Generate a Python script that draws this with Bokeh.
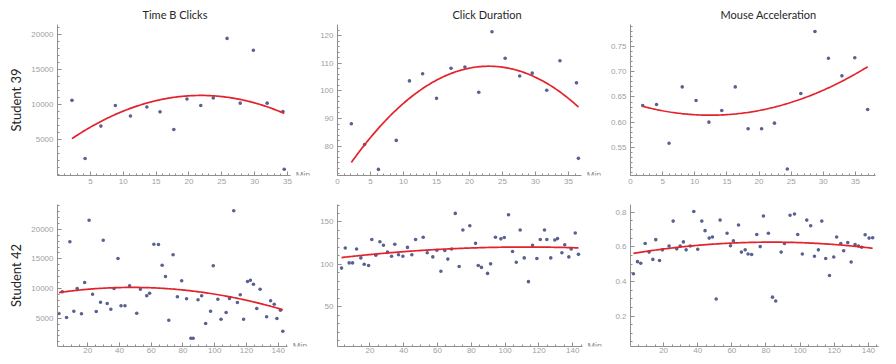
import numpy as np
from bokeh.plotting import figure
from bokeh.layouts import row, column
from bokeh.models import Range1d, FixedTicker, Label, Title, PrintfTickFormatter
from bokeh.embed import file_html
from bokeh.resources import INLINE

# ---------------- data ----------------
col_titles = ["Time B Clicks", "Click Duration", "Mouse Acceleration"]
row_labels = ["Student 39", "Student 42"]
x_axis_label = "Min"

# Student 39
s39_clicks_min = [2.2, 4.2, 6.6, 8.8, 11.1, 13.6, 15.6, 17.7, 19.7, 21.8, 23.7, 25.8, 27.8, 29.8, 31.9, 34.3, 34.5]
s39_clicks = [10600, 2250, 6900, 9850, 8350, 9650, 8950, 6400, 10800, 9850, 10950, 19500, 10200, 17800, 10200, 9000, 700]

s39_dur_min = [2.1, 4.1, 6.2, 8.9, 10.9, 12.9, 15.0, 17.2, 19.3, 21.4, 23.4, 25.4, 27.6, 29.5, 31.7, 33.7, 36.2, 36.5]
s39_dur = [88.1, 80.6, 71.6, 82.1, 103.6, 106.2, 97.3, 108.2, 108.6, 99.5, 121.4, 111.8, 105.4, 106.4, 100.2, 110.9, 102.9, 75.6]

s39_acc_min = [1.9, 4.05, 6.0, 8.05, 10.2, 12.2, 14.2, 16.3, 18.3, 20.4, 22.4, 24.4, 26.5, 28.7, 30.8, 32.9, 34.9, 36.9]
s39_acc = [0.633, 0.635, 0.558, 0.670, 0.643, 0.600, 0.623, 0.670, 0.587, 0.587, 0.598, 0.507, 0.657, 0.780, 0.727, 0.692, 0.728, 0.625]

# Student 42
s42_clicks_min = [1.9, 4.0, 6.7, 8.8, 11.3, 13.4, 16.1, 18.1, 20.9, 23.1, 25.4, 28.1, 29.8, 32.3, 34.6, 36.6, 39.1, 41.0,
                  43.5, 46.4, 50.9, 53.2, 57.2, 59.0, 61.7, 64.6, 66.9, 69.0, 71.1, 73.8, 76.5, 79.2, 82.3, 85.0, 86.4,
                  89.5, 91.8, 94.3, 97.4, 99.1, 102.0, 104.0, 107.2, 109.3, 112.0, 114.3, 116.1, 118.2, 120.7, 122.5,
                  124.4, 126.5, 128.6, 132.7, 135.2, 137.5, 139.2, 141.4, 142.9]
s42_clicks = [5790, 9450, 5120, 17880, 6180, 10010, 5740, 11020, 21530, 9050, 6130, 7700, 18150, 7480, 6520, 10010, 15070, 7090,
              7090, 10460, 5840, 9890, 8780, 9220, 17480, 17430, 13940, 12030, 4660, 15690, 8610, 11310, 8270, 1630, 1630,
              8100, 8780, 4110, 6180, 13840, 8200, 4830, 5960, 8320, 23110, 7650, 8950, 4830, 11190, 11410,
              10730, 6640, 9890, 5240, 7930, 7360, 4950, 6350, 2810]

s42_dur_min = [3.2, 5.4, 7.7, 9.7, 12.1, 14.6, 16.6, 19.2, 21.1, 23.5, 25.9, 28.0, 30.4, 32.8, 34.7, 36.9, 39.5, 42.2, 44.8,
               47.0, 51.5, 53.9, 57.2, 59.6, 62.0, 64.3, 66.1, 68.3, 70.5, 72.8, 75.0, 79.1, 82.5, 84.1, 86.0, 89.6, 91.4,
               94.3, 97.5, 99.5, 102.0, 104.4, 106.6, 108.9, 111.3, 113.8, 116.2, 118.8, 120.8, 123.3, 124.7, 127.0,
               129.4, 131.0, 133.6, 135.3, 137.7, 139.1, 141.5, 143.4]
s42_dur = [95.6, 119.2, 101.7, 101.7, 118.1, 107.6, 100.1, 98.7, 129.3, 110.7, 126.7, 122.6, 114.4, 109.6, 123.7, 111.3, 109.6,
           120.0, 111.3, 129.3, 132.0, 113.6, 108.8, 116.6, 91.9, 116.3, 106.2, 118.1, 160.1, 97.5, 140.6, 145.5, 124.8,
           98.7, 96.4, 89.3, 100.6, 132.0, 130.1, 131.6, 158.5, 115.2, 102.4, 140.6, 107.6, 79.6, 122.6, 106.9, 129.3,
           140.6, 129.3, 107.6, 128.7, 130.4, 113.6, 123.0, 108.8, 118.1, 136.9, 111.8]

s42_acc_min = [2.3, 4.7, 6.6, 9.2, 11.5, 13.7, 15.4, 17.6, 19.3, 23.2, 25.6, 27.7, 29.7, 31.6, 33.2, 35.6, 37.7, 40.0, 42.4,
               44.3, 46.7, 48.6, 50.8, 53.1, 57.2, 59.2, 60.9, 63.9, 65.6, 67.8, 69.5, 71.6, 74.6, 76.6, 78.5, 81.4, 83.8,
               85.7, 88.9, 90.8, 94.1, 96.7, 98.6, 101.3, 103.9, 106.2, 108.4, 110.7, 112.7, 115.0, 117.2, 119.7, 121.4,
               123.8, 125.5, 127.9, 129.9, 132.2, 134.2, 136.1, 138.1, 140.4, 142.5]
s42_acc = [0.444, 0.514, 0.505, 0.619, 0.569, 0.527, 0.641, 0.521, 0.582, 0.604, 0.748, 0.588, 0.604, 0.628, 0.582, 0.604,
           0.804, 0.586, 0.748, 0.693, 0.650, 0.656, 0.298, 0.754, 0.678, 0.606, 0.634, 0.726, 0.569, 0.582, 0.558, 0.555,
           0.671, 0.601, 0.778, 0.678, 0.309, 0.287, 0.569, 0.619, 0.782, 0.789, 0.671, 0.558, 0.754, 0.721, 0.545, 0.582,
           0.748, 0.532, 0.434, 0.541, 0.656, 0.619, 0.577, 0.624, 0.512, 0.613, 0.604, 0.597, 0.669, 0.650, 0.652]

# tick values
ticks_x_top1 = [5, 10, 15, 20, 25, 30, 35]
ticks_x_top = [0, 5, 10, 15, 20, 25, 30, 35]
ticks_x_bottom = [20, 40, 60, 80, 100, 120, 140]
ticks_clicks_39 = [5000, 10000, 15000, 20000]
ticks_dur_39 = [80, 90, 100, 110, 120]
ticks_acc_39 = [0.55, 0.60, 0.65, 0.70, 0.75]
ticks_clicks_42 = [5000, 10000, 15000, 20000]
ticks_dur_42 = [50, 100, 150]
ticks_acc_42 = [0.2, 0.4, 0.6, 0.8]

# ---------------- styling ----------------
POINT = "#58618f"
FIT = "#e3222b"
AXIS = "#8f8f8f"
TICKLBL = "#a0a0a0"
MINLBL = "#8a8a8a"
TEXT = "#262626"
LABEL_FONT = "Lato"
TICK_FONT = "Liberation Sans"


def make_panel(x, y, xr, x_axis_end, yr, xt, yt, xminor_step, yminor_step, width, height,
               bl, br, bt, bb, title=None, title_offset=0, row_label=None, row_offset=0,
               x_standoff=3, yfmt=None):
    p = figure(width=width, height=height, x_range=Range1d(*xr), y_range=Range1d(*yr),
               output_backend="svg", toolbar_location=None,
               min_border_left=bl, min_border_right=br, min_border_top=bt, min_border_bottom=bb)
    p.grid.visible = False
    p.outline_line_color = None
    p.background_fill_color = "white"
    p.border_fill_color = "white"

    xm = list(np.arange(np.ceil(xr[0] / xminor_step) * xminor_step, x_axis_end, xminor_step))
    ym = list(np.arange(np.ceil(yr[0] / yminor_step) * yminor_step, yr[1], yminor_step))
    p.xaxis.ticker = FixedTicker(ticks=xt, minor_ticks=xm)
    p.yaxis.ticker = FixedTicker(ticks=yt, minor_ticks=ym)
    p.xaxis.bounds = (xr[0], x_axis_end)
    if yfmt:
        p.yaxis.formatter = PrintfTickFormatter(format=yfmt)
    for ax in p.axis:
        ax.axis_line_color = AXIS
        ax.major_tick_line_color = AXIS
        ax.minor_tick_line_color = AXIS
        ax.major_tick_in = 4
        ax.major_tick_out = 0
        ax.minor_tick_in = 2
        ax.minor_tick_out = 0
        ax.major_label_text_font = TICK_FONT
        ax.major_label_text_font_size = "8px"
        ax.major_label_text_color = TICKLBL
    p.yaxis.major_label_standoff = 4
    p.xaxis.major_label_standoff = x_standoff

    p.scatter(x, y, size=3.6, color=POINT, line_color=None)
    coef = np.polyfit(x, y, 2)
    xs = np.linspace(min(x), max(x), 150)
    p.line(xs, np.polyval(coef, xs), color=FIT, line_width=1.7)

    p.add_layout(Label(x=x_axis_end, y=yr[0], text=x_axis_label, x_offset=5, y_offset=1,
                       text_baseline="alphabetic", text_align="left", text_font=TICK_FONT,
                       text_font_size="9px", text_color=MINLBL))
    if title:
        p.title.text = title
        p.title.align = "left"
        p.title.offset = title_offset
        p.title.text_font = LABEL_FONT
        p.title.text_font_size = "11px"
        p.title.text_font_style = "normal"
        p.title.text_color = TEXT
        p.title.standoff = 8
    if row_label:
        p.add_layout(Title(text=row_label, align="center", offset=row_offset, text_font=LABEL_FONT,
                           text_font_size="13px", text_font_style="normal", text_color=TEXT, standoff=10), "left")
    return p


H1, H2 = 192, 164
W1, W2, W3 = 314, 293, 273

p1 = make_panel(s39_clicks_min, s39_clicks, (0, 38.8), 35.5, (-200, 21500), ticks_x_top1, ticks_clicks_39, 1, 1000,
                W1, H1, 54, 2, 24, 17, title=col_titles[0], title_offset=85, row_label=row_labels[0], row_offset=3)
p2 = make_panel(s39_dur_min, s39_dur, (0, 40.6), 37.0, (69.4, 124.0), ticks_x_top, ticks_dur_39, 1, 2,
                W2, H1, 23, 2, 22, 17, title=col_titles[1], title_offset=115)
p3 = make_panel(s39_acc_min, s39_acc, (0, 38.9), 38.1, (0.494, 0.794), ticks_x_top, ticks_acc_39, 1, 0.01,
                W3, H1, 23, 0, 24, 17, title=col_titles[2], title_offset=90, yfmt="%.2f")

p4 = make_panel(s42_clicks_min, s42_clicks, (1, 161.6), 146, (228, 24174), ticks_x_bottom, ticks_clicks_42, 5, 1000,
                W1, H2, 54, 2, 12, 10, row_label=row_labels[1], row_offset=17, x_standoff=1)
p5 = make_panel(s42_dur_min, s42_dur, (0.8, 159.4), 145.8, (3.1, 170.6), ticks_x_bottom, ticks_dur_42, 5, 10,
                W2, H2, 23, 2, 5, 10, x_standoff=1)
p6 = make_panel(s42_acc_min, s42_acc, (0.6, 147.1), 145.9, (0.024, 0.844), ticks_x_bottom, ticks_acc_42, 5, 0.05,
                W3, H2, 23, 0, 6, 10, x_standoff=1, yfmt="%.1f")

layout = column(row(p1, p2, p3), row(p4, p5, p6))
open("out.html", "w").write(file_html(layout, INLINE))
